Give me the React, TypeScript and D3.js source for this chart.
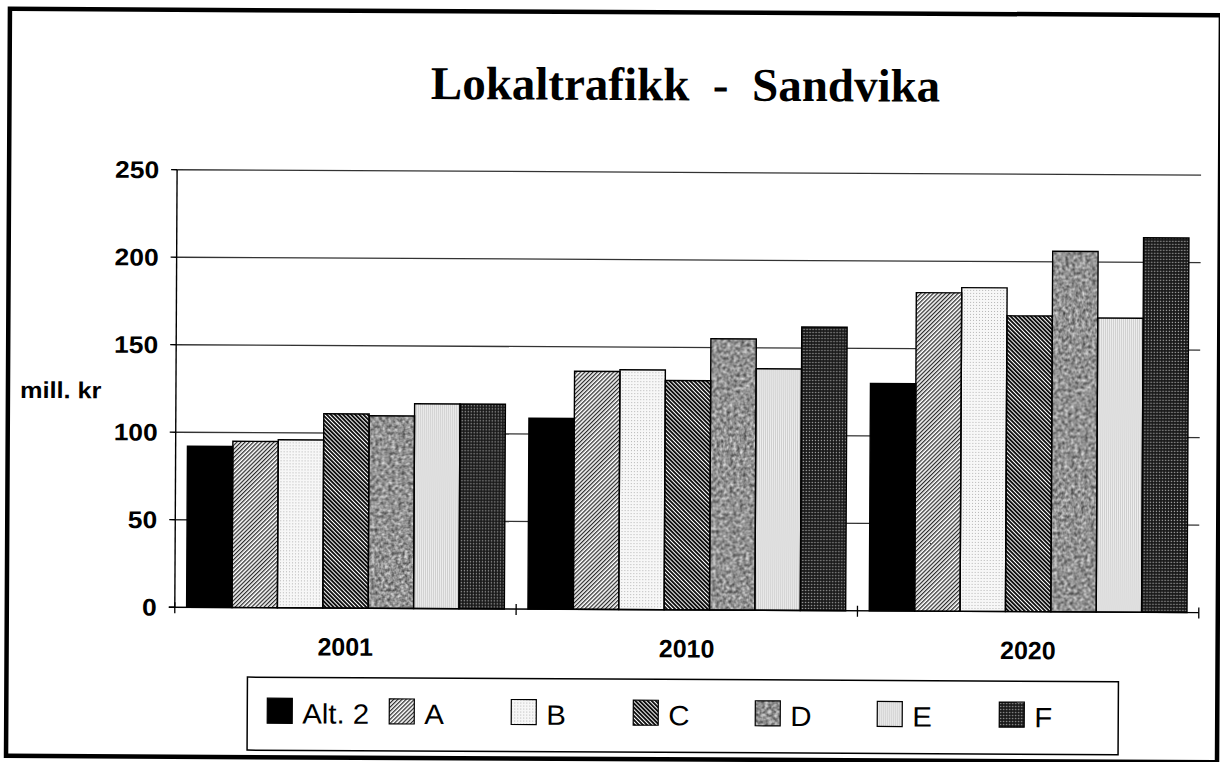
import React, { useEffect, useRef } from 'react'
import * as d3 from 'd3'

// values (mill. kr)
const years = ['2001', '2010', '2020']
const seriesNames = ['Alt. 2', 'A', 'B', 'C', 'D', 'E', 'F']
const alt2 = [92, 109, 130]
const altA = [95, 136, 182]
const altB = [96, 137, 185]
const altC = [111, 131, 169]
const altD = [110, 155, 206]
const altE = [117, 138, 168]
const altF = [117, 162, 214]
const yTicks = [0, 50, 100, 150, 200, 250]
const yLabel = 'mill. kr'
const title = 'Lokaltrafikk  -  Sandvika'

const seriesValues = [alt2, altA, altB, altC, altD, altE, altF]
const fills = ['#000', 'url(#pA)', 'url(#pB)', 'url(#pC)', '#9a9a9a', 'url(#pE)', 'url(#pF)']

const W = 1220
const H = 762
const sans = "'Liberation Sans', Arial, sans-serif"

function makeDefs(svg) {
    const defs = svg.append('defs')

    const stripes = (id, angle, lw, color) => {
        const p = defs.append('pattern')
            .attr('id', id)
            .attr('patternUnits', 'userSpaceOnUse')
            .attr('width', 2.9).attr('height', 10)
            .attr('patternTransform', `rotate(${angle})`)
        p.append('rect').attr('width', 2.9).attr('height', 10).attr('fill', '#fff')
        p.append('rect').attr('width', lw).attr('height', 10).attr('fill', color)
    }
    stripes('pA', 45, 1.25, '#2b2b2b')
    stripes('pC', -45, 1.9, '#0d0d0d')

    const pB = defs.append('pattern').attr('id', 'pB')
        .attr('patternUnits', 'userSpaceOnUse').attr('width', 3).attr('height', 3)
    pB.append('rect').attr('width', 3).attr('height', 3).attr('fill', '#f7f7f7')
    pB.append('rect').attr('width', 1).attr('height', 1).attr('fill', '#b5b5b5')

    const pE = defs.append('pattern').attr('id', 'pE')
        .attr('patternUnits', 'userSpaceOnUse').attr('width', 2).attr('height', 3)
    pE.append('rect').attr('width', 2).attr('height', 3).attr('fill', '#eeeeee')
    pE.append('rect').attr('width', 1).attr('height', 3).attr('fill', '#cfcfcf')

    const pF = defs.append('pattern').attr('id', 'pF')
        .attr('patternUnits', 'userSpaceOnUse').attr('width', 3).attr('height', 3)
    pF.append('rect').attr('width', 3).attr('height', 3).attr('fill', '#161616')
    pF.append('rect').attr('x', 0.8).attr('y', 0.8).attr('width', 1.3).attr('height', 1.3).attr('fill', '#a8a8a8')

    // grainy grey for D
    const f = defs.append('filter').attr('id', 'mottle')
        .attr('x', 0).attr('y', 0).attr('width', '100%').attr('height', '100%')
        .attr('color-interpolation-filters', 'sRGB')
    f.append('feTurbulence').attr('type', 'fractalNoise')
        .attr('baseFrequency', 0.3).attr('numOctaves', 2).attr('seed', 4).attr('result', 'n')
    f.append('feColorMatrix').attr('in', 'n').attr('type', 'matrix')
        .attr('values', '0.9 0 0 0 0.12  0.9 0 0 0 0.12  0.9 0 0 0 0.12  0 0 0 0 1')
        .attr('result', 'g')
    f.append('feComposite').attr('in', 'g').attr('in2', 'SourceGraphic').attr('operator', 'in')
}

function makeChart(el) {
    const svg = d3.select(el)
    svg.selectAll('*').remove()
    makeDefs(svg)

    // the scan is tilted a little
    const root = svg.append('g').attr('transform', 'rotate(0.3 610 381)')

    root.append('rect')
        .attr('x', 8).attr('y', 12).attr('width', 1211).attr('height', 747)
        .attr('fill', '#fff').attr('stroke', '#000').attr('stroke-width', 4.5)

    root.append('text')
        .attr('x', 684).attr('y', 100)
        .attr('text-anchor', 'middle')
        .style('white-space', 'pre')
        .attr('font-family', "'Liberation Serif', 'Times New Roman', serif")
        .attr('font-weight', 'bold').attr('font-size', 47)
        .text(title)

    const x0 = d3.scaleBand().domain(years).range([176, 1200])
    const x1 = d3.scaleBand().domain(seriesNames).range([0, x0.bandwidth()]).paddingOuter(0.26)
    const y = d3.scaleLinear().domain([0, 250]).range([609.5, 172])

    // grid
    root.append('g').selectAll('line')
        .data(yTicks.filter(d => d > 0))
        .enter().append('line')
        .attr('x1', 176).attr('x2', 1200)
        .attr('y1', d => y(d)).attr('y2', d => y(d))
        .attr('stroke', '#333').attr('stroke-width', 1.3)

    // y ticks + labels
    const yt = root.append('g')
    yt.selectAll('line').data(yTicks).enter().append('line')
        .attr('x1', 170).attr('x2', 176)
        .attr('y1', d => y(d)).attr('y2', d => y(d))
        .attr('stroke', '#000').attr('stroke-width', 1.3)
    yt.selectAll('text').data(yTicks).enter().append('text')
        .attr('transform', d => `translate(158,${y(d)}) scale(1.1,1)`)
        .attr('dy', '0.35em')
        .attr('text-anchor', 'end')
        .attr('font-family', sans).attr('font-weight', 'bold').attr('font-size', 24)
        .text(d => d)

    root.append('text')
        .attr('transform', 'translate(20,401) scale(1.1,1)')
        .attr('font-family', sans).attr('font-weight', 'bold').attr('font-size', 23)
        .text(yLabel)

    // bars
    const rows = years.map((yr, i) => ({
        year: yr,
        values: seriesNames.map((s, j) => ({ name: s, value: seriesValues[j][i], fill: fills[j] }))
    }))

    const groups = root.append('g').selectAll('g')
        .data(rows).enter().append('g')
        .attr('transform', d => `translate(${x0(d.year)},0)`)

    groups.selectAll('rect.fill')
        .data(d => d.values).enter().append('rect')
        .attr('class', 'fill')
        .attr('x', d => x1(d.name))
        .attr('y', d => y(d.value))
        .attr('width', x1.bandwidth())
        .attr('height', d => y(0) - y(d.value))
        .attr('fill', d => d.fill)
        .attr('filter', d => d.name === 'D' ? 'url(#mottle)' : null)

    groups.selectAll('rect.edge')
        .data(d => d.values).enter().append('rect')
        .attr('class', 'edge')
        .attr('x', d => x1(d.name))
        .attr('y', d => y(d.value))
        .attr('width', x1.bandwidth())
        .attr('height', d => y(0) - y(d.value))
        .attr('fill', 'none').attr('stroke', '#000').attr('stroke-width', 1.4)

    // axes lines
    root.append('line')
        .attr('x1', 176).attr('x2', 176).attr('y1', y(250)).attr('y2', y(0))
        .attr('stroke', '#000').attr('stroke-width', 1.4)
    root.append('line')
        .attr('x1', 170).attr('x2', 1200).attr('y1', y(0)).attr('y2', y(0))
        .attr('stroke', '#000').attr('stroke-width', 1.4)

    const bounds = years.map(d => x0(d)).concat([1200])
    root.append('g').selectAll('line')
        .data(bounds).enter().append('line')
        .attr('x1', d => d).attr('x2', d => d)
        .attr('y1', y(0) - 5).attr('y2', y(0) + 6)
        .attr('stroke', '#000').attr('stroke-width', 1.3)

    root.append('g').selectAll('text')
        .data(years).enter().append('text')
        .attr('x', d => x0(d) + x0.bandwidth() / 2)
        .attr('y', 657)
        .attr('text-anchor', 'middle')
        .attr('font-family', sans).attr('font-weight', 'bold').attr('font-size', 25)
        .text(d => d)

    // legend
    const lg = root.append('g')
    lg.append('rect')
        .attr('x', 249).attr('y', 679).attr('width', 871).attr('height', 73)
        .attr('fill', '#fff').attr('stroke', '#000').attr('stroke-width', 1.5)

    const lx = d3.scaleBand().domain(seriesNames).range([269, 1123])
    const items = lg.selectAll('g.item')
        .data(seriesNames.map((s, j) => ({ name: s, fill: fills[j] })))
        .enter().append('g').attr('class', 'item')
        .attr('transform', d => `translate(${lx(d.name)},700)`)
    items.append('rect')
        .attr('width', 25).attr('height', 25)
        .attr('fill', d => d.fill)
        .attr('filter', d => d.name === 'D' ? 'url(#mottle)' : null)
    items.append('rect')
        .attr('width', 25).attr('height', 25)
        .attr('fill', 'none').attr('stroke', '#000').attr('stroke-width', 1.2)
    items.append('text')
        .attr('transform', 'translate(35,25) scale(1.05,1)')
        .attr('font-family', sans).attr('font-size', 28)
        .text(d => d.name)
}

export default function App() {
    const ref = useRef(null)
    useEffect(() => {
        makeChart(ref.current)
    }, [])
    return (
        <svg ref={ref} width={W} height={H}
            style={{ position: 'absolute', left: 0, top: 0, background: '#fff' }} />
    )
}
